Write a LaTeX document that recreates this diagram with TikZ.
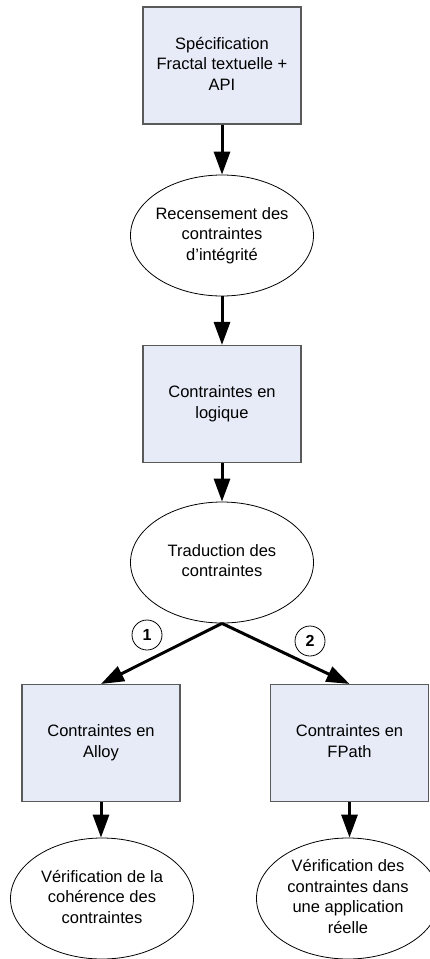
\documentclass[tikz,border=0pt]{standalone}
\usepackage{fontspec}
\setmainfont{Liberation Sans}
\usetikzlibrary{shapes.geometric,arrows.meta}
\definecolor{boxfill}{RGB}{230,235,247}
\definecolor{boxline}{RGB}{90,90,90}
% centred multi-line text of zero width, so the shape keeps its own size
\newcommand\mlines[1]{\makebox[0pt]{\begin{tabular}{@{}c@{}}#1\end{tabular}}}
\begin{document}
\begin{tikzpicture}[x=1pt,y=-1pt,
  every node/.style={font=\fontsize{16.5}{20.5}\selectfont, text=black},
  stepbox/.style={rectangle, draw=boxline, line width=1.1pt, fill=boxfill,
    minimum width=158pt, minimum height=117pt, inner sep=0pt},
  task/.style={ellipse, draw=black, line width=0.8pt, fill=white,
    minimum width=183pt, minimum height=121pt, inner sep=0pt},
  numcirc/.style={circle, draw=black, line width=0.8pt, minimum size=30pt,
    inner sep=0pt, font=\fontsize{16}{18}\selectfont\bfseries},
  arr/.style={line width=3pt, -{Triangle[length=23pt,width=16pt]}}]
\clip (0,0) rectangle (430,959);
\fill[white] (0,0) rectangle (430,959);

\node[stepbox] (spec) at (222,65.5) {\mlines{Spécification\\Fractal textuelle +\\API}};
\node[task] (recens) at (222,235.5) {\mlines{Recensement des\\contraintes\\d’intégrité}};
\node[stepbox] (logique) at (222,404) {\mlines{Contraintes en\\logique}};
\node[task] (trad) at (222,562.5) {\mlines{Traduction des\\contraintes}};
\node[stepbox] (alloy) at (101,743) {\mlines{Contraintes en\\Alloy}};
\node[stepbox] (fpath) at (349.5,743) {\mlines{Contraintes en\\FPath}};
\node[task] (coher) at (102,898.5) {\mlines{Vérification de la\\cohérence des\\contraintes}};
\node[task] (reelle) at (348,898.5) {\mlines{Vérification des\\contraintes dans\\une application\\réelle}};

\node[numcirc] (n1) at (147,635) {1};
\node[numcirc] (n2) at (310,641) {2};

\draw[arr] (spec.south) -- (recens.north);
\draw[arr] (recens.south) -- (logique.north);
\draw[arr] (logique.south) -- (trad.north);
\draw[arr] (trad.south) -- (alloy.north);
\draw[arr] (trad.south) -- (fpath.north);
\draw[arr] (alloy.south) -- (alloy.south |- coher.north);
\draw[arr] (fpath.south) -- (fpath.south |- reelle.north);
\end{tikzpicture}
\end{document}
